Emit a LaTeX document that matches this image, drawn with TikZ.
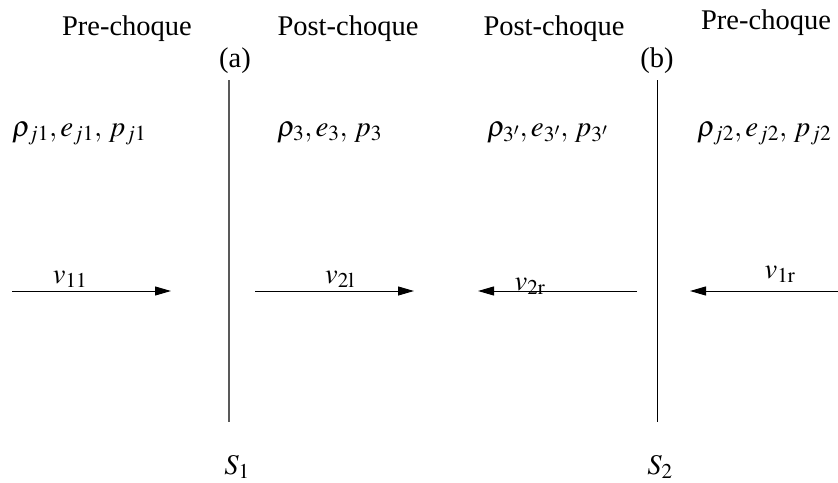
\documentclass[tikz,border=0pt]{standalone}
\usepackage{mathptmx}
\usepackage{fontspec}
\setmainfont{Liberation Serif}
\usetikzlibrary{arrows.meta}
\tikzset{
  lbl/.style={anchor=base, inner sep=0pt, font=\fontsize{28.5}{32}\selectfont},
  mlbl/.style={anchor=base west, inner sep=0pt, font=\fontsize{29}{32}\selectfont},
  vel/.style={draw=black, line width=1pt, -{Triangle[length=16pt,width=9pt]}},
  shock/.style={draw=black, line width=0.9pt}
}
\begin{document}
\begin{tikzpicture}[x=1pt,y=-1pt]
\useasboundingbox (0,0) rectangle (838,482);
% headings
\node[lbl] (preA) at (127,35) {Pre-choque};
\node[lbl] (postA) at (348,35) {Post-choque};
\node[lbl] (postB) at (554,35) {Post-choque};
\node[lbl] (preB) at (766,29) {Pre-choque};
\node[lbl] (a) at (235,67) {(a)};
\node[lbl] (b) at (657,67) {(b)};
% shocks
\coordinate (s1top) at (229,80);
\coordinate (s1bot) at (229,422);
\coordinate (s2top) at (657,80);
\coordinate (s2bot) at (657,422);
\draw[shock, line width=1.2pt, draw=black!65] (s1top) -- (s1bot);
\draw[shock] (s2top) -- (s2bot);
\node[lbl] (S1) at (237,474) {$S_1$};
\node[lbl] (S2) at (660,474) {$S_2$};
% states
\node[mlbl] (st1) at (12,136) {$\rho_{j1},e_{j1},\,p_{j1}$};
\node[mlbl] (st3) at (277,136) {$\rho_{3},e_{3},\,p_{3}$};
\node[mlbl] (st3p) at (487,136) {$\rho_{3'},e_{3'},\,p_{3'}$};
\node[mlbl] (st2) at (697,136) {$\rho_{j2},e_{j2},\,p_{j2}$};
% velocities
\coordinate (a1s) at (12,291);  \coordinate (a1e) at (171,291);
\coordinate (a2s) at (255,291); \coordinate (a2e) at (414,291);
\coordinate (a3s) at (637,291); \coordinate (a3e) at (478,291);
\coordinate (a4s) at (838,291); \coordinate (a4e) at (690,291);
\draw[vel] (a1s) -- (a1e);
\draw[vel] (a2s) -- (a2e);
\draw[vel] (a3s) -- (a3e);
\draw[vel] (a4s) -- (a4e);
\node[lbl] (v11) at (70,283) {$v_{11}$};
\node[lbl] (v2l) at (340,283) {$v_{2\mathrm{l}}$};
\node[lbl] (v2r) at (530,290) {$v_{2\mathrm{r}}$};
\node[lbl] (v1r) at (780,278) {$v_{1\mathrm{r}}$};
\end{tikzpicture}
\end{document}
